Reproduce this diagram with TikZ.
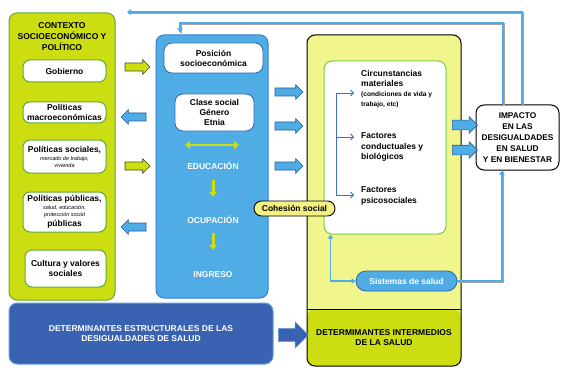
\documentclass[tikz,border=0pt]{standalone}
\usepackage{fontspec}
\setmainfont{Liberation Sans}
\usetikzlibrary{shapes.arrows,arrows.meta,calc}
\definecolor{limeG}{RGB}{204,222,18}
\definecolor{ctxborder}{RGB}{95,170,55}
\definecolor{midblue}{RGB}{80,172,228}
\definecolor{midborder}{RGB}{55,130,200}
\definecolor{boxborder}{RGB}{45,100,175}
\definecolor{darkblue}{RGB}{58,98,178}
\definecolor{darkborder}{RGB}{100,160,225}
\definecolor{paleyellow}{RGB}{240,245,140}
\definecolor{cohfill}{RGB}{245,240,130}
\definecolor{innergreen}{RGB}{125,200,65}
\definecolor{brblue}{RGB}{60,110,195}
\definecolor{fbblue}{RGB}{80,170,230}
\definecolor{shadowgrey}{RGB}{165,165,165}
\definecolor{yarrborder}{RGB}{70,70,30}
\definecolor{barrborder}{RGB}{35,95,160}
\newcommand{\mytxt}{\bfseries\fontsize{8.5}{10}\selectfont}
\newcommand{\mysmall}{\mdseries\itshape\fontsize{5.5}{6.5}\selectfont}
\newcommand{\mysmallb}{\bfseries\fontsize{6.6}{8}\selectfont}
\begin{document}
\begin{tikzpicture}[x=1pt,y=-1pt,
  every node/.style={font=\mytxt, align=center, inner sep=0pt},
  panel/.style={rectangle, rounded corners=8pt, line width=1pt},
  gbox/.style={rectangle, rounded corners=7pt, fill=white, draw=ctxborder, line width=1pt},
  bbox/.style={rectangle, rounded corners=8pt, fill=white, draw=boxborder, line width=0.8pt},
  wtxt/.style={text=white, text height=6pt, text depth=0pt},
  fatarrow/.style={single arrow, single arrow head indent=0pt, line width=0.6pt},
  yarr/.style={fatarrow, fill=limeG, draw=yarrborder, minimum height=25pt, inner sep=3.7pt, single arrow head extend=3.3pt},
  barrR/.style={fatarrow, fill=midblue, draw=barrborder, minimum height=25pt, inner sep=3.7pt, single arrow head extend=3.3pt},
  barrL/.style={barrR, shape border rotate=180},
  fb/.style={draw=fbblue, line width=1.5pt, -{Triangle[width=5.5pt,length=4pt]},
    preaction={draw=shadowgrey, line width=1.5pt, arrows=-, transform canvas={shift={(1pt,-1pt)}}}},
  ldbl/.style={draw=limeG, line width=2.6pt, {Triangle[width=8pt,length=5pt]}-{Triangle[width=8pt,length=5pt]}},
  ldown/.style={draw=limeG, line width=3pt, -{Triangle[width=8pt,length=5pt]}},
  brarr/.style={draw=brblue, line width=0.8pt, -{Straight Barb[width=6pt,length=3pt]}},
  sysconn/.style={draw=fbblue, line width=1.3pt, {Triangle[width=5pt,length=4pt]}-{Triangle[width=5pt,length=4pt]}}
]
\useasboundingbox (0,0) rectangle (567,377);

% ---------- left context panel
\node[panel, fill=limeG, draw=ctxborder, minimum width=106pt, minimum height=287pt] (ctx) at (62,156.5) {};
\node[font=\bfseries\fontsize{8.5}{11}\selectfont] (ctxt) at (62,37) {CONTEXTO\\SOCIOECONÓMICO Y\\POLÍTICO};
\node[gbox, minimum width=83pt, minimum height=22pt] (gob) at (64.5,71) {Gobierno};
\node[gbox, minimum width=83pt, minimum height=21pt] (macro) at (64.5,112.5) {Políticas\\macroeconómicas};
\node[gbox, minimum width=83pt, minimum height=33pt] (psoc) at (64.5,156.5) {Políticas sociales,\\[-1.5pt]{\mysmall mercado de trabajo,}\\[-3.5pt]{\mysmall vivienda}};
\node[gbox, minimum width=83pt, minimum height=40pt] (ppub) at (64.5,212) {Políticas públicas,\\[-2pt]{\mysmall salud, educación,}\\[-3.5pt]{\mysmall protección social}\\[0pt]públicas};
\node[gbox, minimum width=81pt, minimum height=37pt] (cult) at (65.5,268.5) {Cultura y valores\\sociales};

% ---------- arrows between left and middle
\node[yarr] (ya1) at (135.5,67) {};
\node[barrL] (ba1) at (135.5,117) {};
\node[yarr] (ya2) at (135.5,166) {};
\node[barrL] (ba2) at (135.5,227) {};

% ---------- middle panel
\node[panel, fill=midblue, draw=midborder, minimum width=112pt, minimum height=263pt] (mid) at (212,166.5) {};
\node[bbox, minimum width=99pt, minimum height=30pt] (pos) at (213.5,58) {Posición\\socioeconómica};
\node[bbox, minimum width=79pt, minimum height=37pt] (clase) at (214.5,112.5) {Clase social\\Género\\Etnia};
\coordinate (da1) at (185,145);
\coordinate (da2) at (239,145);
\draw[ldbl] (da1) -- (da2);
\node[wtxt] (edu) at (213,166) {EDUCACIÓN};
\node[wtxt] (ocu) at (213,220) {OCUPACIÓN};
\node[wtxt] (ing) at (213,274) {INGRESO};
\draw[ldown, shorten <=11pt, shorten >=20pt] (edu) -- (ocu);
\draw[ldown, shorten <=10pt, shorten >=21pt] (ocu) -- (ing);

% ---------- arrows middle -> right
\node[barrR, minimum height=28pt] (bm1) at (287,92) {};
\node[barrR, minimum height=28pt] (bm2) at (287,126) {};
\node[barrR, minimum height=28pt] (bm3) at (287,166) {};

% ---------- right panel
\node[panel, fill=paleyellow, draw=black, minimum width=154pt, minimum height=331pt,
  path picture={
    \fill[limeG] (path picture bounding box.south west) rectangle ($(path picture bounding box.south east)+(0,57pt)$);
    \draw[black, line width=1pt] ($(path picture bounding box.south west)+(0,57pt)$) -- ($(path picture bounding box.south east)+(0,57pt)$);
  }] (right) at (384,200.5) {};
\node (intm) at (384,338) {DETERMIMANTES INTERMEDIOS\\DE LA SALUD};
\node[rectangle, rounded corners=8pt, fill=white, draw=innergreen, line width=1pt, minimum width=122pt, minimum height=173pt] (inner) at (385,147.5) {};

\node[align=left, anchor=west, font=\bfseries\fontsize{8.5}{10}\selectfont] (t1) at (361,89) {Circunstancias\\materiales\\{\mysmallb (condiciones de vida y}\\{\mysmallb trabajo, etc)}};
\node[align=left, anchor=west, font=\bfseries\fontsize{8.5}{10.5}\selectfont] (t2) at (361,147) {Factores\\conductuales y\\biológicos};
\node[align=left, anchor=west, font=\bfseries\fontsize{8.5}{11}\selectfont] (t3) at (361,195.5) {Factores\\psicosociales};
\coordinate (bk1) at (336,93);
\coordinate (bk2) at (336,137);
\coordinate (bk3) at (336,195);
\coordinate (be1) at (354,93);
\coordinate (be2) at (354,137);
\coordinate (be3) at (354,195);
\draw[draw=brblue, line width=0.8pt] (bk1) -- (bk3);
\draw[brarr] (bk1) -- (be1);
\draw[brarr] (bk2) -- (be2);
\draw[brarr] (bk3) -- (be3);

\node[rectangle, rounded corners=10pt, fill=midblue, draw=boxborder, line width=0.8pt, minimum width=101pt, minimum height=20pt, text=white] (sis) at (406.5,281) {Sistemas de salud};
\draw[sysconn] (sis.west) -| ([xshift=7pt]inner.south west);

\node[rectangle, rounded corners=7.5pt, fill=cohfill, draw=black, line width=0.9pt, minimum width=81pt, minimum height=15pt] (coh) at (294.5,208.5) {Cohesión social};

% ---------- impact
\node[rectangle, rounded corners=8pt, fill=white, draw=black, line width=1pt, minimum width=83pt, minimum height=65pt, font=\bfseries\fontsize{8.3}{11}\selectfont] (imp) at (517.5,137.5) {IMPACTO\\EN LAS\\DESIGUALDADES\\EN SALUD\\Y EN BIENESTAR};
\node[barrR, minimum height=25pt, inner sep=4.5pt, single arrow head extend=3.5pt] (bi1) at (462.5,125) {};
\node[barrR, minimum height=25pt, inner sep=4.5pt, single arrow head extend=3.5pt] (bi2) at (462.5,150) {};
\draw[fb] (sis.east) -| ([xshift=-15.5pt]imp.south);

% ---------- feedback loops
\coordinate (fbtip) at (127,12);
\coordinate (fbc) at (180,23);
\draw[fb] ([xshift=4.5pt]imp.north) |- (fbtip);
\draw[fb, shorten >=2pt] ([xshift=-14.5pt]imp.north) |- (fbc) -- (mid.north -| fbc);

% ---------- bottom
\node[rectangle, rounded corners=8pt, fill=darkblue, draw=darkborder, line width=1pt, minimum width=264pt, minimum height=61pt, text=white, font=\bfseries\fontsize{8.5}{10.5}\selectfont] (est) at (141,333.5) {DETERMINANTES ESTRUCTURALES DE LAS\\DESIGUALDADES DE SALUD};
\node[fatarrow, fill=darkblue, draw=darkborder, line width=0.4pt, minimum height=30pt, inner sep=6.5pt, single arrow head extend=6.5pt] (bigarr) at (290,335) {};
\end{tikzpicture}
\end{document}
